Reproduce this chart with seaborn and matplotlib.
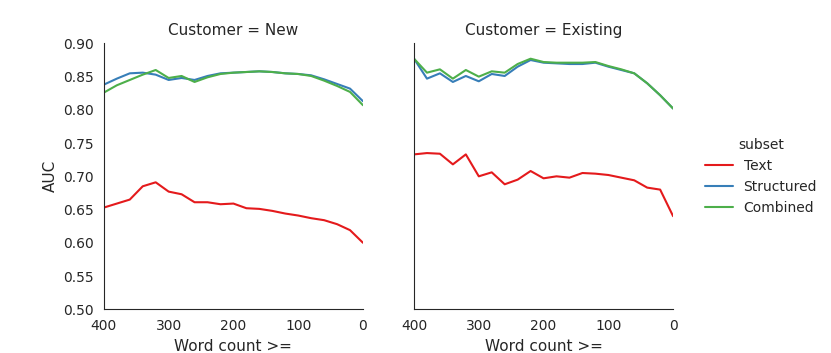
import pandas as pd
import matplotlib
matplotlib.use("Agg")
import matplotlib.pyplot as plt
import seaborn as sns

# Word count thresholds (x axis, shown reversed)
word_counts = [400, 380, 360, 340, 320, 300, 280, 260, 240, 220, 200,
               180, 160, 140, 120, 100, 80, 60, 40, 20, 0]

# AUC values
new_text = [0.653, 0.659, 0.665, 0.685, 0.691, 0.677, 0.673, 0.661, 0.661, 0.658, 0.659,
            0.652, 0.651, 0.648, 0.644, 0.641, 0.637, 0.634, 0.628, 0.619, 0.600]
new_structured = [0.838, 0.847, 0.855, 0.856, 0.853, 0.845, 0.848, 0.845, 0.851, 0.855, 0.856,
                  0.857, 0.858, 0.857, 0.855, 0.854, 0.852, 0.846, 0.839, 0.832, 0.813]
new_combined = [0.826, 0.837, 0.845, 0.853, 0.860, 0.848, 0.851, 0.842, 0.849, 0.854, 0.856,
                0.857, 0.858, 0.857, 0.855, 0.854, 0.851, 0.844, 0.836, 0.827, 0.807]

existing_text = [0.733, 0.735, 0.734, 0.718, 0.733, 0.700, 0.706, 0.688, 0.695, 0.708, 0.697,
                 0.700, 0.698, 0.705, 0.704, 0.702, 0.698, 0.694, 0.683, 0.680, 0.640]
existing_structured = [0.877, 0.847, 0.855, 0.842, 0.851, 0.843, 0.854, 0.851, 0.865, 0.875, 0.871,
                       0.870, 0.869, 0.869, 0.871, 0.865, 0.860, 0.855, 0.840, 0.822, 0.802]
existing_combined = [0.877, 0.856, 0.861, 0.847, 0.860, 0.850, 0.858, 0.856, 0.869, 0.877, 0.872,
                     0.871, 0.871, 0.871, 0.872, 0.866, 0.861, 0.855, 0.840, 0.822, 0.802]

series = {
    ("New", "Text"): new_text,
    ("New", "Structured"): new_structured,
    ("New", "Combined"): new_combined,
    ("Existing", "Text"): existing_text,
    ("Existing", "Structured"): existing_structured,
    ("Existing", "Combined"): existing_combined,
}

rows = []
for (customer, subset), values in series.items():
    for wc, auc in zip(word_counts, values):
        rows.append({"Customer": customer, "subset": subset,
                     "Word count >=": wc, "AUC": auc})
df = pd.DataFrame(rows)

sns.set_style("white")
plt.rcParams["font.family"] = ["DejaVu Sans"]
plt.rcParams["xtick.labelsize"] = 10
plt.rcParams["ytick.labelsize"] = 10
plt.rcParams["axes.labelsize"] = 11
plt.rcParams["axes.titlesize"] = 11

g = sns.relplot(data=df, x="Word count >=", y="AUC", hue="subset", col="Customer",
                kind="line", palette="Set1", height=3.5, aspect=1.0,
                col_order=["New", "Existing"],
                hue_order=["Text", "Structured", "Combined"])

g.figure.set_size_inches(8.31, 3.53)
g.figure.subplots_adjust(left=0.125, right=0.81, bottom=0.124, top=0.877, wspace=0.197)
for ax in g.axes.flat:
    ax.set_xlim(400, 0)
    ax.set_ylim(0.5, 0.9)
    ax.set_xticks([400, 300, 200, 100, 0])

sns.move_legend(g, "center left", bbox_to_anchor=(0.833, 0.5), frameon=False)

g.figure.savefig("out.png", dpi=100)
